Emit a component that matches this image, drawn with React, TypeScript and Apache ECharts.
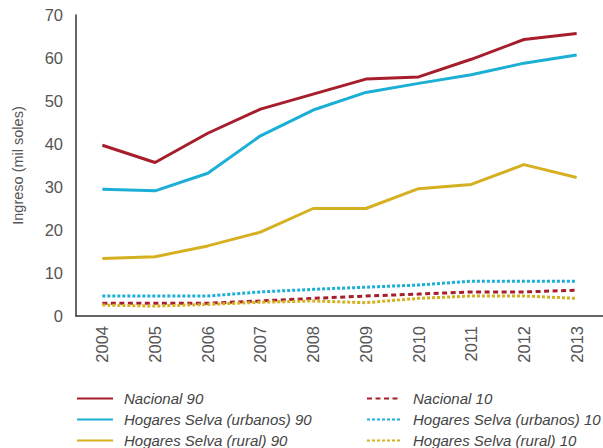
import React, { useEffect, useRef } from "react";
import * as echarts from "echarts";

const years = ["2004", "2005", "2006", "2007", "2008", "2009", "2010", "2011", "2012", "2013"];
const nacional90 = [39.7, 35.7, 42.5, 48.1, 51.6, 55.1, 55.6, 59.7, 64.3, 65.7];
const urbanos90 = [29.5, 29.1, 33.2, 41.9, 47.9, 52.0, 54.1, 56.1, 58.8, 60.7];
const rural90 = [13.4, 13.8, 16.3, 19.5, 25.0, 25.0, 29.6, 30.6, 35.2, 32.2];
const nacional10 = [2.95, 2.95, 2.95, 3.5, 4.1, 4.65, 5.1, 5.6, 5.6, 6.0];
const urbanos10 = [4.65, 4.65, 4.65, 5.6, 6.2, 6.7, 7.2, 8.1, 8.1, 8.1];
const rural10 = [2.55, 2.3, 2.7, 3.2, 3.5, 3.1, 4.1, 4.65, 4.65, 4.1];

const RED = "#A61E2B";
const BLUE = "#1BAFD6";
const YELLOW = "#D5B021";
const FONT = "Liberation Sans, Arial, sans-serif";

export default function App() {
  const ref = useRef<HTMLDivElement>(null);
  useEffect(() => {
    if (!ref.current) return;
    const chart = echarts.init(ref.current, undefined, { renderer: "svg" });
    const mk = (name: string, data: number[], color: string, type: any) => ({
      name,
      type: "line",
      data,
      symbol: "none",
      showSymbol: false,
      lineStyle: { color, width: 3, type },
      itemStyle: { color },
    });
    const legendBase = {
      orient: "vertical",
      top: 391,
      height: 60,
      padding: 0,
      itemHeight: 14,
      itemGap: 6,
      itemStyle: { opacity: 0, borderWidth: 0 },
    };
    chart.setOption({
      animation: false,
      grid: { left: 76, right: 0, top: 15, bottom: 132 },
      xAxis: {
        type: "category",
        data: years,
        boundaryGap: true,
        axisLine: { lineStyle: { color: "#333", width: 1.5 } },
        axisTick: { show: false },
        axisLabel: { rotate: 90, color: "#555", fontSize: 16.5, fontFamily: FONT, margin: 10 },
      },
      yAxis: {
        type: "value",
        min: 0,
        max: 70,
        interval: 10,
        name: "Ingreso (mil soles)",
        nameLocation: "middle",
        nameGap: 51,
        nameTextStyle: { color: "#555", fontSize: 14.5, fontFamily: FONT },
        axisLine: { show: true, lineStyle: { color: "#333", width: 1.5 } },
        axisTick: { show: false },
        splitLine: { show: false },
        axisLabel: { color: "#555", fontSize: 16.5, fontFamily: FONT, margin: 13 },
      },
      legend: [
        {
          ...legendBase,
          data: ["Nacional 90", "Hogares Selva (urbanos) 90", "Hogares Selva (rural) 90"],
          left: 76,
          itemWidth: 36,
          textStyle: { fontStyle: "italic", fontSize: 15, color: "#444", fontFamily: FONT, padding: [0, 0, 0, 6] },
        },
        {
          ...legendBase,
          data: ["Nacional 10", "Hogares Selva (urbanos) 10", "Hogares Selva (rural) 10"],
          left: 366,
          itemWidth: 34,
          textStyle: { fontStyle: "italic", fontSize: 15, color: "#444", fontFamily: FONT, padding: [0, 0, 0, 7] },
        },
      ],
      series: [
        mk("Nacional 90", nacional90, RED, "solid"),
        mk("Hogares Selva (urbanos) 90", urbanos90, BLUE, "solid"),
        mk("Hogares Selva (rural) 90", rural90, YELLOW, "solid"),
        mk("Nacional 10", nacional10, RED, [5, 3.5]),
        mk("Hogares Selva (urbanos) 10", urbanos10, BLUE, [3, 2]),
        mk("Hogares Selva (rural) 10", rural10, YELLOW, [3, 2]),
      ],
    });
    return () => chart.dispose();
  }, []);
  return <div ref={ref} style={{ position: "absolute", left: 0, top: 0, width: 603, height: 448 }} />;
}
